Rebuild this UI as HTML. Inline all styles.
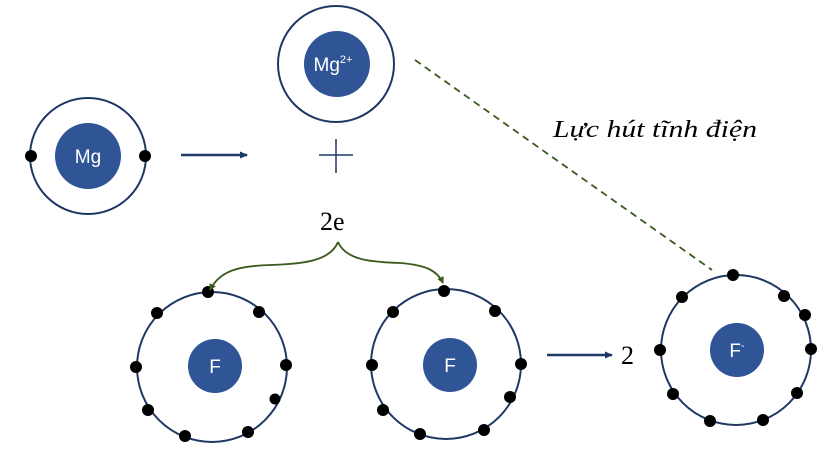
<!DOCTYPE html>
<html><head><meta charset="utf-8"><style>html,body{margin:0;padding:0;background:#fff}svg{display:block}</style></head>
<body>
<svg width="825" height="452" viewBox="0 0 825 452" xmlns="http://www.w3.org/2000/svg">
<defs>
<marker id="ab" markerWidth="8" markerHeight="8" refX="7" refY="4" orient="auto" markerUnits="userSpaceOnUse"><path d="M0,0.5 L8,4 L0,7.5 Z" fill="#203864"/></marker>
<marker id="ag" markerWidth="8" markerHeight="8" refX="6" refY="4" orient="auto" markerUnits="userSpaceOnUse"><path d="M0,0.5 L7,4 L0,7.5 Z" fill="#3a5a1e"/></marker>
</defs>
<g fill="none" stroke="#1f3864" stroke-width="2">
<circle cx="88" cy="156" r="58"/>
<circle cx="336" cy="64" r="58"/>
<circle cx="212" cy="367" r="75"/>
<circle cx="446" cy="364" r="75"/>
<circle cx="736" cy="350" r="75"/>
</g>
<g fill="#2f5597">
<circle cx="88" cy="156" r="33"/>
<circle cx="337" cy="64" r="33"/>
<circle cx="215" cy="366" r="27"/>
<circle cx="450" cy="365" r="27"/>
<circle cx="737" cy="350" r="27"/>
</g>
<g fill="#000">
<circle cx="31" cy="156" r="6"/><circle cx="145" cy="156" r="6"/>
<circle cx="208" cy="292" r="6"/><circle cx="157" cy="313" r="6"/><circle cx="259" cy="312" r="6"/><circle cx="136" cy="367" r="6"/><circle cx="286" cy="365" r="6"/><circle cx="275" cy="399" r="5.5"/><circle cx="148" cy="410" r="6"/><circle cx="185" cy="436" r="6"/><circle cx="248" cy="432" r="6"/>
<circle cx="444" cy="291" r="6"/><circle cx="393" cy="312" r="6"/><circle cx="495" cy="311" r="6"/><circle cx="372" cy="365" r="6"/><circle cx="521" cy="364" r="6"/><circle cx="510" cy="397" r="6"/><circle cx="383" cy="410" r="6"/><circle cx="420" cy="434" r="6"/><circle cx="484" cy="430" r="6"/>
<circle cx="733" cy="275" r="6"/><circle cx="682" cy="297" r="6"/><circle cx="784" cy="296" r="6"/><circle cx="805" cy="315" r="6"/><circle cx="811" cy="349" r="6"/><circle cx="660" cy="350" r="6"/><circle cx="797" cy="393" r="6"/><circle cx="673" cy="394" r="6"/><circle cx="710" cy="421" r="6"/><circle cx="763" cy="420" r="6"/>
</g>
<g font-family="Liberation Sans, sans-serif" fill="#fff" text-anchor="middle">
<text x="88" y="163" font-size="19">Mg</text>
<text x="333" y="71" font-size="19">Mg<tspan font-size="11" dy="-8">2+</tspan></text>
<text x="215" y="373" font-size="19">F</text>
<text x="450" y="372" font-size="19">F</text>
<text x="737" y="357" font-size="19">F<tspan font-size="11" dy="-8">-</tspan></text>
</g>
<g stroke="#203864" stroke-width="2.5">
<line x1="181" y1="155" x2="247" y2="155" marker-end="url(#ab)"/>
<line x1="547" y1="355" x2="612" y2="355" marker-end="url(#ab)"/>
</g>
<g stroke="#203864" stroke-width="1.5">
<line x1="319" y1="155" x2="353" y2="155"/>
<line x1="336" y1="139" x2="336" y2="173"/>
</g>
<g fill="none" stroke="#3a5a1e" stroke-width="1.8">
<path d="M338,242 C330,262 300,264 270,265 C240,266 220,270 210,290" marker-end="url(#ag)"/>
<path d="M338,242 C346,260 370,262 400,263 C425,265 437,270 443,283" marker-end="url(#ag)"/>
<line x1="415" y1="60" x2="712" y2="270" stroke-dasharray="7,5"/>
</g>
<g font-family="Liberation Serif, serif" fill="#000">
<text x="320" y="230" font-size="26">2e</text>
<text x="621" y="364" font-size="26">2</text>
<text x="553" y="137" font-size="24" font-style="italic" textLength="204" lengthAdjust="spacingAndGlyphs">Lực hút tĩnh điện</text>
</g>
</svg>
</body></html>
